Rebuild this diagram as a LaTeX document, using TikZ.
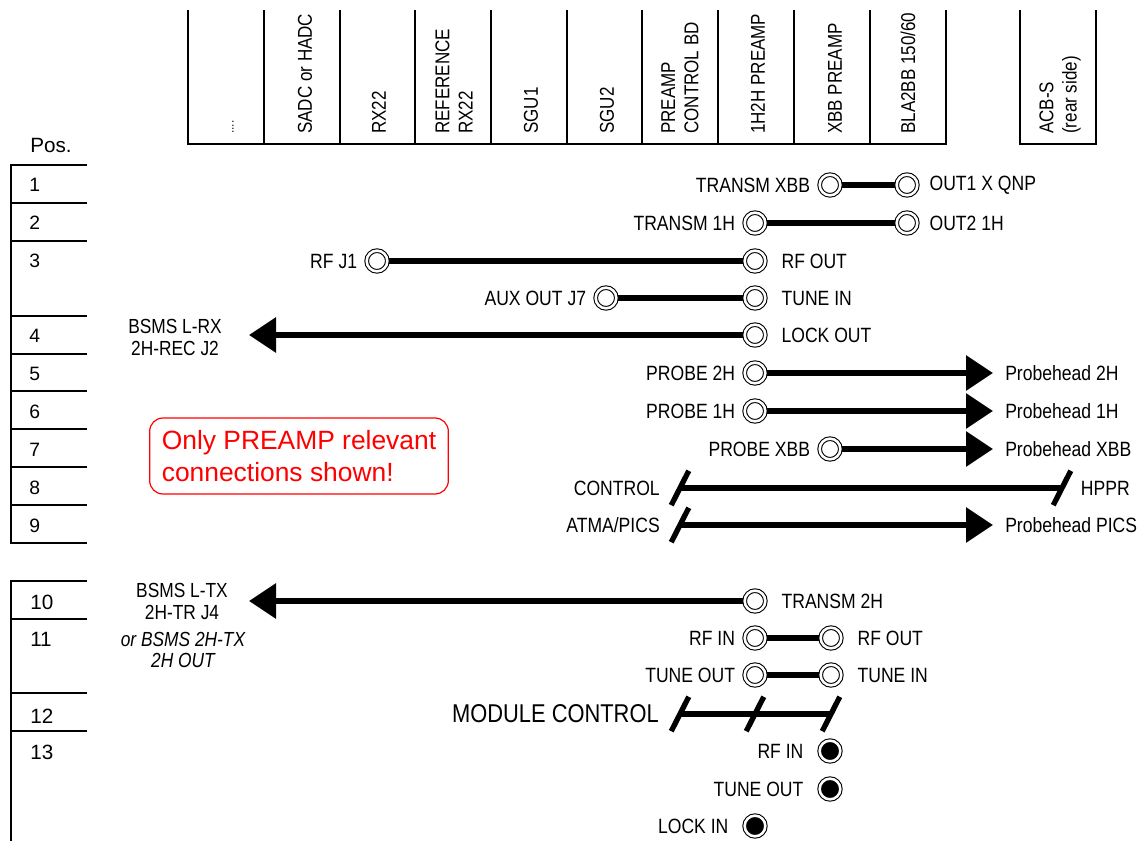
\documentclass[tikz,border=0pt]{standalone}
\usepackage{fontspec}
\usepackage{tikz}
\usetikzlibrary{positioning,arrows.meta}
\setmainfont{Liberation Sans}
\newfontfamily\narrowfont[FakeStretch=0.85]{Liberation Sans}

\begin{document}
\begin{tikzpicture}[x=0.75pt, y=-0.75pt,
  jack/.style = {draw, circle, double, line width=0.8pt, double distance=1.9pt, minimum size=15.5pt, inner sep=0pt, outer sep=1pt},
  jackfull/.style = {jack, fill=black},
  slash/.style = {fill=black, rectangle, minimum width=4pt, minimum height=29pt, inner sep=0pt, rotate=-27},
  wire/.style = {line width=4.5pt},
  feed/.style = {wire, -{Triangle[length=20.25pt,width=25.5pt]}},
  rule/.style = {line width=1.5pt},
  lab/.style = {inner sep=0pt, font=\narrowfont\fontsize{15.5}{17}\selectfont},
  sidelab/.style = {inner sep=0pt, align=center, font=\narrowfont\fontsize{15.3}{16.5}\selectfont},
  col/.style = {inner sep=0pt, rotate=90, anchor=west, align=left, font=\narrowfont\fontsize{15}{17.5}\selectfont},
  rownum/.style = {inner sep=0pt, anchor=west, font=\fontsize{14.5}{16}\selectfont},
  rownumbig/.style = {rownum, font=\fontsize{15.5}{18}\selectfont},
  note/.style = {draw=red, text=red, line width=0.9pt, rounded corners=10pt, align=left, inner sep=0pt, minimum width=224pt, minimum height=57pt, font=\fontsize{19.8}{24}\selectfont}]
\useasboundingbox (0,0) rectangle (1140,841);

\draw[rule] (188,10) -- (188,144) -- (946,144) -- (946,10);
\draw[rule] (264,10) -- (264,144);
\draw[rule] (340,10) -- (340,144);
\draw[rule] (415,10) -- (415,144);
\draw[rule] (491,10) -- (491,144);
\draw[rule] (567,10) -- (567,144);
\draw[rule] (642,10) -- (642,144);
\draw[rule] (718,10) -- (718,144);
\draw[rule] (794,10) -- (794,144);
\draw[rule] (870,10) -- (870,144);
\draw[rule] (1020,10) -- (1020,144) -- (1096,144) -- (1096,10);

\node[col, font=\fontsize{9}{10}\selectfont] (dots) at (233,134) {....};
\node[col] (sadc) at (305,134) {SADC or HADC};
\node[col] (rx) at (379,134) {RX22};
\node[col] (refrx) at (454,134) {REFERENCE\\RX22};
\node[col] (sgua) at (531,134) {SGU1};
\node[col] (sgub) at (607,134) {SGU2};
\node[col] (ctrlbd) at (680,134) {PREAMP\\CONTROL BD};
\node[col] (preh) at (758,134) {1H2H PREAMP};
\node[col] (prex) at (835,134) {XBB PREAMP};
\node[col] (bla) at (908,134) {BLA2BB 150/60};
\node[col] (acb) at (1060,134) {ACB-S\\(rear side)};

\node[rownum, font=\fontsize{15.5}{17}\selectfont] (posh) at (30,145) {Pos.};
\draw[rule] (87,165) -- (11,165) -- (11,543) -- (87,543);
\draw[rule] (11,203) -- (87,203);
\draw[rule] (11,241) -- (87,241);
\draw[rule] (11,316) -- (87,316);
\draw[rule] (11,354) -- (87,354);
\draw[rule] (11,391) -- (87,391);
\draw[rule] (11,429) -- (87,429);
\draw[rule] (11,467) -- (87,467);
\draw[rule] (11,505) -- (87,505);
\draw[rule] (87,581) -- (11,581) -- (11,841);
\draw[rule] (11,619) -- (87,619);
\draw[rule] (11,693) -- (87,693);
\draw[rule] (11,731) -- (87,731);

\node[rownum] (pa) at (29,185) {1};
\node[rownum] (pb) at (29,223) {2};
\node[rownum] (pc) at (29,261) {3};
\node[rownum] (pd) at (29,336) {4};
\node[rownum] (pe) at (29,374) {5};
\node[rownum] (pf) at (29,412) {6};
\node[rownum] (pg) at (29,450) {7};
\node[rownum] (ph) at (29,488) {8};
\node[rownum] (pi) at (29,526) {9};
\node[rownumbig] (pj) at (30,602) {10};
\node[rownumbig] (pk) at (30,639) {11};
\node[rownumbig] (pl) at (30,716) {12};
\node[rownumbig] (pm) at (30,752) {13};

\node[note] (only) at (299,456) {Only PREAMP relevant\\connections shown!};

\node[jack] (txx) at (830,185) {};
\node[jack] (outx) at (907,185) {};
\node[jack] (txh) at (755,223) {};
\node[jack] (outh) at (907,223) {};
\node[jack] (rfj) at (377,261) {};
\node[jack] (rfout) at (755,261) {};
\node[jack] (aux) at (606,298) {};
\node[jack] (tunein) at (755,298) {};
\node[jack] (lockout) at (755,335) {};
\node[jack] (probeh) at (755,373) {};
\node[jack] (probep) at (755,411) {};
\node[jack] (probex) at (830,449) {};
\node[slash] (ctrla) at (680,488) {};
\node[slash] (ctrlb) at (1062,488) {};
\node[slash] (atma) at (680,525) {};
\node[jack] (txtwo) at (755,601) {};
\node[jack] (rfina) at (755,638) {};
\node[jack] (rfoutb) at (831,638) {};
\node[jack] (tuneout) at (755,675) {};
\node[jack] (tuneinb) at (831,675) {};
\node[slash] (moda) at (680,714) {};
\node[slash] (modb) at (755,714) {};
\node[slash] (modc) at (831,714) {};
\node[jackfull] (rfinb) at (830,751) {};
\node[jackfull] (tuneoutb) at (830,789) {};
\node[jackfull] (lockin) at (755,826) {};
\coordinate (bsmsrx) at (249,335);
\coordinate (headh) at (993,373);
\coordinate (headp) at (993,411);
\coordinate (headx) at (993,449);
\coordinate (headpics) at (993,525);
\coordinate (bsmstx) at (249,601);

\node[lab] (ltxx) [left=6pt of txx] {TRANSM XBB};
\node[lab] (loutx) [right=8pt of outx] {OUT1 X QNP};
\node[lab] (ltxh) [left=6pt of txh] {TRANSM 1H};
\node[lab] (louth) [right=8pt of outh] {OUT2 1H};
\node[lab] (lrfj) [left=6pt of rfj] {RF J1};
\node[lab] (lrfout) [right=11pt of rfout] {RF OUT};
\node[lab] (laux) [left=6pt of aux] {AUX OUT J7};
\node[lab] (ltunein) [right=11pt of tunein] {TUNE IN};
\node[lab] (llockout) [right=11pt of lockout] {LOCK OUT};
\node[lab] (lprobeh) [left=6pt of probeh] {PROBE 2H};
\node[lab] (lprobep) [left=6pt of probep] {PROBE 1H};
\node[lab] (lprobex) [left=6pt of probex] {PROBE XBB};
\node[lab] (lheadh) [right=9pt of headh] {Probehead 2H};
\node[lab] (lheadp) [right=9pt of headp] {Probehead 1H};
\node[lab] (lheadx) [right=9pt of headx] {Probehead XBB};
\node[lab] (lctrl) [left=15pt of ctrla.center] {CONTROL};
\node[lab] (lhppr) [right=14pt of ctrlb.center] {HPPR};
\node[lab] (latma) [left=15pt of atma.center] {ATMA/PICS};
\node[lab] (lpics) [right=9pt of headpics] {Probehead PICS};
\node[lab] (ltxtwo) [right=11pt of txtwo] {TRANSM 2H};
\node[lab] (lrfina) [left=6pt of rfina] {RF IN};
\node[lab] (lrfoutb) [right=11pt of rfoutb] {RF OUT};
\node[lab] (ltuneout) [left=6pt of tuneout] {TUNE OUT};
\node[lab] (ltuneinb) [right=11pt of tuneinb] {TUNE IN};
\node[lab, font=\narrowfont\fontsize{19.3}{21}\selectfont] (lmod) [left=15.75pt of moda.center] {MODULE CONTROL};
\node[lab] (lrfinb) [left=11pt of rfinb] {RF IN};
\node[lab] (ltuneoutb) [left=11pt of tuneoutb] {TUNE OUT};
\node[lab] (llockin) [left=11pt of lockin] {LOCK IN};
\node[sidelab] (lbsmsrx) at (175,337) {BSMS L-RX\\2H-REC J2};
\node[sidelab] (lbsmstx) at (182,601) {BSMS L-TX\\2H-TR J4};
\node[sidelab, font=\narrowfont\itshape\fontsize{15.3}{16}\selectfont] (lbsmsalt) at (183,650) {or BSMS 2H-TX\\2H OUT};

\draw[wire] (txx) -- (outx);
\draw[wire] (txh) -- (outh);
\draw[wire] (rfj) -- (rfout);
\draw[wire] (aux) -- (tunein);
\draw[feed] (lockout) -- (bsmsrx);
\draw[feed] (probeh) -- (headh);
\draw[feed] (probep) -- (headp);
\draw[feed] (probex) -- (headx);
\draw[wire] (ctrla.center) -- (ctrlb.center);
\draw[feed] (atma.center) -- (headpics);
\draw[feed] (txtwo) -- (bsmstx);
\draw[wire] (rfina) -- (rfoutb);
\draw[wire] (tuneout) -- (tuneinb);
\draw[wire] (moda.center) -- (modb.center);
\draw[wire] (modb.center) -- (modc.center);
\end{tikzpicture}
\end{document}
